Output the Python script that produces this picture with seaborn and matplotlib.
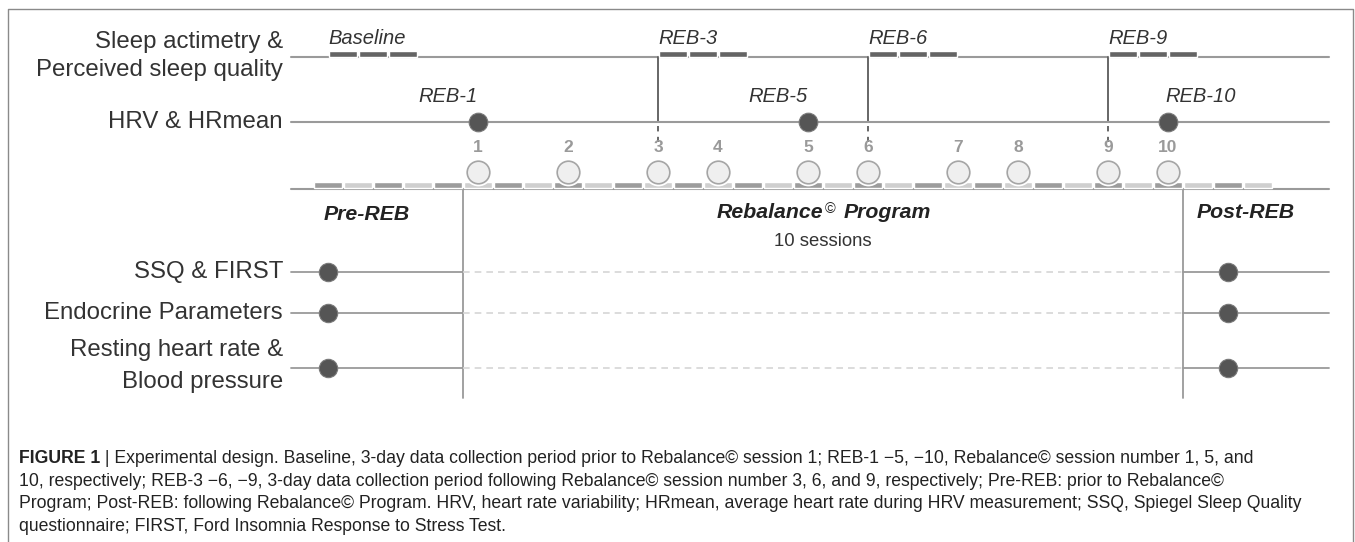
import numpy as np
import pandas as pd
import matplotlib.pyplot as plt
import seaborn as sns

# Timeline data (one unit on the x axis = one block of the timeline bar)
n_blocks = 32
block_shade = ['dark', 'light'] * 16
sessions = [1, 2, 3, 4, 5, 6, 7, 8, 9, 10]
session_block = [5, 8, 11, 13, 16, 18, 21, 23, 26, 28]
hrv_sessions = [1, 5, 10]
hrv_labels = ['REB-1', 'REB-5', 'REB-10']
sleep_labels = ['Baseline', 'REB-3', 'REB-6', 'REB-9']
sleep_sessions = [3, 6, 9]
sleep_days = 3
pre_block = 0
post_block = 30
top_rows = ['Sleep actimetry &\nPerceived sleep quality', 'HRV & HRmean']
lower_rows = ['SSQ & FIRST', 'Endocrine Parameters', 'Resting heart rate &\nBlood pressure']

caption = [
    " | Experimental design. Baseline, 3-day data collection period prior to Rebalance\u00a9 session 1; REB-1 \u22125, \u221210, Rebalance\u00a9 session number 1, 5, and",
    "10, respectively; REB-3 \u22126, \u22129, 3-day data collection period following Rebalance\u00a9 session number 3, 6, and 9, respectively; Pre-REB: prior to Rebalance\u00a9",
    "Program; Post-REB: following Rebalance\u00a9 Program. HRV, heart rate variability; HRmean, average heart rate during HRV measurement; SSQ, Spiegel Sleep Quality",
    "questionnaire; FIRST, Ford Insomnia Response to Stress Test.",
]

# layout (y in pixels from the top, x in timeline units)
Y_SLEEP, Y_HRV, Y_NUM, Y_CIRC = 57, 122, 148, 172
Y_BAR, BAR_H, Y_BASE = 182, 6, 189
row_y = [272, 313, 368]
Y_VEND = 398
X_LINE0, X_LINE1, X_LABEL = -0.75, 33.85, -1.0

sns.set_theme(style="white")
plt.rcParams['font.family'] = ['Liberation Sans', 'DejaVu Sans']
TXT = '#333333'
HEAD = '#222222'

fig = plt.figure(figsize=(13.55, 5.42), dpi=100)
ax = fig.add_axes([0, 0, 1, 1])
ax.set_xlim(-313 / 30, (1355 - 313) / 30)
ax.set_ylim(542, 0)
ax.axis('off')

sess = pd.DataFrame({'session': sessions, 'block': session_block})
sess['x'] = sess['block'] + 0.5
sx = dict(zip(sess['session'], sess['x']))

# frame around the figure
ax.plot([8 / 1355, 8 / 1355, 1353 / 1355, 1353 / 1355], [-0.02, 1 - 9 / 542, 1 - 9 / 542, -0.02],
        transform=ax.transAxes, color='#8a8a8a', lw=1, clip_on=False)

# row labels
ax.text(X_LABEL, Y_SLEEP - 1, top_rows[0], ha='right', va='center', fontsize=17.3, color=TXT,
        linespacing=1.3)
ax.text(X_LABEL, Y_HRV, top_rows[1], ha='right', va='center', fontsize=17.3, color=TXT)
for lab, y, dy, ls in zip(lower_rows, row_y, [0, 0, -2], [1, 1, 1.55]):
    ax.text(X_LABEL, y + dy, lab, ha='right', va='center', fontsize=17.3, color=TXT,
            linespacing=ls)

# sleep line with 3-day periods
ax.plot([X_LINE0, X_LINE1], [Y_SLEEP, Y_SLEEP], color='#9a9a9a', lw=1.5, zorder=1)
sleep_start = [pre_block + 0.5] + [sx[s] for s in sleep_sessions]
for lab, x0 in zip(sleep_labels, sleep_start):
    ax.bar(x0 + np.arange(sleep_days) + 0.5, BAR_H, bottom=Y_SLEEP - BAR_H, width=0.93,
           color='#646464', zorder=2)
    ax.text(x0, Y_SLEEP - 19, lab, ha='left', va='center', fontsize=14.5,
            style='italic', color=TXT)
for s in sleep_sessions:
    ax.plot([sx[s], sx[s]], [Y_SLEEP, Y_HRV], color='#5a5a5a', lw=1.3, zorder=1)
    ax.plot([sx[s], sx[s]], [Y_HRV + 4, Y_HRV + 20], color='#5a5a5a', lw=1.3,
            dashes=(3, 3), zorder=1)

# HRV line with measurement points
ax.plot([X_LINE0, X_LINE1], [Y_HRV, Y_HRV], color='#9a9a9a', lw=1.5, zorder=1)
hx = [sx[s] for s in hrv_sessions]
sns.scatterplot(x=hx, y=[Y_HRV] * len(hx), s=180, color='#555555', edgecolor='#7a7a7a',
                linewidth=0.8, ax=ax, zorder=3, legend=False)
for lab, x, ha, dx in zip(hrv_labels, hx, ['right', 'right', 'left'], [0, 0, -0.1]):
    ax.text(x + dx, Y_HRV - 25, lab, ha=ha, va='center', fontsize=14.5, style='italic',
            color=TXT)

# timeline bar
ax.plot([X_LINE0, X_LINE1], [Y_BASE, Y_BASE], color='#9a9a9a', lw=1.5, zorder=1)
shade = {'dark': '#9c9c9c', 'light': '#cfcfcf'}
ax.bar(np.arange(n_blocks) + 0.5, BAR_H, bottom=Y_BAR, width=0.94,
       color=[shade[c] for c in block_shade], zorder=2)
sns.scatterplot(x=sess['x'], y=[Y_CIRC] * len(sess), s=400, color='white', linewidth=0,
                ax=ax, zorder=3, legend=False)
sns.scatterplot(x=sess['x'], y=[Y_CIRC] * len(sess), s=265, color='#efefef', edgecolor='#a5a5a5',
                linewidth=1.2, ax=ax, zorder=4, legend=False)
for s, x in sx.items():
    ax.text(x, Y_NUM, str(s), ha='center', va='center', fontsize=12.5, fontweight='bold',
            color='#9a9a9a')

# program phases
x_start = session_block[0]
x_end = session_block[-1] + 1
xc = (x_start + x_end) / 2
for x in (x_start, x_end):
    ax.plot([x, x], [Y_BASE, Y_VEND], color='#9a9a9a', lw=1.3, zorder=1)
ax.text(1.8, 214, 'Pre-REB', ha='center', va='center', fontsize=15.3, fontweight='bold',
        style='italic', color=HEAD)
ax.text(31.1, 213, 'Post-REB', ha='center', va='center', fontsize=15.3, fontweight='bold',
        style='italic', color=HEAD)
rb = ax.text(xc, 213, 'Rebalance', ha='right', va='center', fontsize=15.3, fontweight='bold',
             style='italic', color=HEAD)
ax.annotate('\u00a9', xy=(1, 1), xycoords=rb, xytext=(1.5, 1), textcoords='offset points',
            ha='left', va='top', fontsize=10.5, color=HEAD)
ax.text(xc + 0.7, 213, 'Program', ha='left', va='center', fontsize=15.3, fontweight='bold',
        style='italic', color=HEAD)
ax.text(xc, 241, '10 sessions', ha='center', va='center', fontsize=13.3, color=TXT)

# pre / post assessments
for y in row_y:
    ax.plot([X_LINE0, x_start], [y, y], color='#9a9a9a', lw=1.3, zorder=1)
    ax.plot([x_start, x_end], [y, y], color='#d6d6d6', lw=1.2, dashes=(4, 3), zorder=1)
    ax.plot([x_end, X_LINE1], [y, y], color='#9a9a9a', lw=1.3, zorder=1)
sns.scatterplot(x=[pre_block + 0.5] * 3 + [post_block + 0.5] * 3, y=row_y * 2, s=175,
                color='#555555', edgecolor='#7a7a7a', linewidth=0.8, ax=ax, zorder=3, legend=False)

# caption
t0 = fig.text(19 / 1355, 1 - 463 / 542, 'FIGURE 1', fontsize=12.7, fontweight='bold',
              color=HEAD, va='baseline')
ax.annotate(caption[0], xy=(1, 0), xycoords=t0, va='bottom', ha='left', fontsize=12.7,
            color=HEAD)
for i, line in enumerate(caption[1:], start=1):
    fig.text(19 / 1355, 1 - (463 + 22.7 * i) / 542, line, fontsize=12.7, color=HEAD,
             va='baseline')

fig.savefig('out.png', dpi=100, facecolor='white')
